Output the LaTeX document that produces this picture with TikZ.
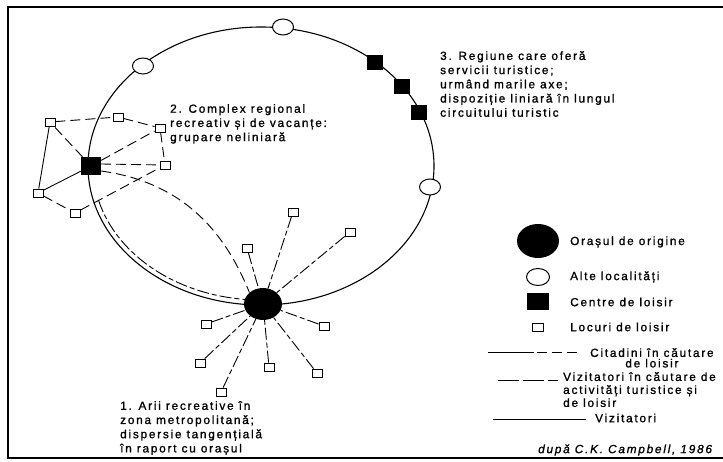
\documentclass[tikz,border=0pt]{standalone}
\usepackage{fontspec}
\setmainfont[LetterSpace=15,FakeBold=1.2]{Liberation Sans}
\usetikzlibrary{shapes.geometric}
\usetikzlibrary{positioning}

\begin{document}
\begin{tikzpicture}[x=1pt,y=1pt,
	oras/.style={ellipse,fill=black,minimum width=38pt,minimum height=32pt,inner sep=0},
	localitate/.style={ellipse,draw,line width=1pt,fill=white,minimum width=21pt,minimum height=16pt,inner sep=0},
	centru/.style={rectangle,fill=black,minimum width=16pt,minimum height=15pt,inner sep=0},
	loc/.style={rectangle,draw,line width=0.8pt,fill=white,minimum width=10pt,minimum height=8pt,inner sep=0},
	citad/.style={line width=0.9pt,dash pattern=on 12pt off 3pt on 5pt off 3pt},
	turist/.style={line width=0.9pt,dash pattern=on 10pt off 5pt},
	lbl/.style={font=\fontsize{11.8}{14.2}\selectfont,inner sep=0,align=left}]

\useasboundingbox (0,0) rectangle (723,-462);
\draw[line width=1.6pt] (740,-7) -- (8,-7) -- (8,-458) -- (740,-458);

% circuitul turistic
\draw[line width=1.1pt] (261,-166) ellipse [x radius=173, y radius=139];
\coordinate (a0) at (98.7,-200.7);
\draw[citad] (a0) arc [start angle=195, end angle=267, x radius=168, y radius=134];

\node[oras] (city) at (263,-304) {};

\node[localitate] (o1) at (283,-27) {};
\node[localitate] (o2) at (143,-66) {};
\node[localitate] (o3) at (430,-187) {};

\node[centru] (c1) at (375,-63) {};
\node[centru] (c2) at (402,-87) {};
\node[centru] (c3) at (419,-113) {};

% complexul regional
\node[centru,minimum width=20pt,minimum height=18pt] (cplx) at (91,-166) {};
\node[loc] (s1) at (50,-122) {};
\node[loc] (s2) at (118,-117) {};
\node[loc] (s3) at (160,-128) {};
\node[loc] (s4) at (165,-165) {};
\node[loc] (s5) at (38,-193) {};
\node[loc] (s6) at (75,-213) {};

\draw[turist] (s1) -- (s2) -- (s3);
\draw[turist] (s3) -- (s4);
\draw[turist] (s5) -- (s6);
\draw[turist] (s6) -- (s4);
\draw[turist] (cplx) -- (s1);
\draw[turist] (cplx) -- (s3);
\draw[turist] ([yshift=2pt]cplx.east) -- (s4);
\draw[line width=0.9pt] (s1) -- (s5);
\draw[line width=0.9pt] (cplx) -- (s5);
\draw[turist] ([yshift=-5pt]cplx.east) to[out=-8,in=112] (city.north west);

% arii recreative
\node[loc] (r1) at (293,-212) {};
\node[loc] (r2) at (350,-232) {};
\node[loc] (r3) at (247,-248) {};
\node[loc] (r4) at (324,-326) {};
\node[loc] (r5) at (206,-324) {};
\node[loc] (r6) at (200,-363) {};
\node[loc] (r7) at (269,-367) {};
\node[loc] (r8) at (317,-373) {};
\node[loc] (r9) at (221,-392) {};
\foreach \i in {1,...,9}
	\draw[citad] (r\i) -- (city);

\node[lbl,anchor=north west] (t2) at (170,-104) {2. Complex regional\\recreativ și de vacanțe:\\grupare neliniară};
\node[lbl,anchor=north west] (t3) at (440,-51) {3. Regiune care oferă\\servicii turistice;\\urmând marile axe;\\dispoziție liniară în lungul\\circuitului turistic};
\node[lbl,anchor=north west] (t1) at (120,-401) {1. Arii recreative în\\zona metropolitană;\\dispersie tangențială\\în raport cu orașul};

% legenda
\node[oras,minimum width=42pt,minimum height=34pt] (lcity) at (538,-241) {};
\node[localitate,minimum width=23pt,minimum height=17pt] (lloc) at (538,-277) {};
\node[centru,minimum width=22pt,minimum height=17pt] (lcen) at (538,-302) {};
\node[loc,minimum width=11pt] (lsq) at (538,-327) {};
\node[lbl,anchor=west] at (570,-242) {Orașul de origine};
\node[lbl,anchor=west] at (570,-277) {Alte localități};
\node[lbl,anchor=west] at (570,-302) {Centre de loisir};
\node[lbl,anchor=west] at (570,-327) {Locuri de loisir};

\coordinate (la1) at (488,-353);
\coordinate (la2) at (534,-353);
\coordinate (la3) at (580,-353);
\draw[line width=1pt] (la1) -- (la2);
\draw[line width=1pt,dash pattern=on 10pt off 5pt] ([xshift=3pt]la2) -- (la3);
\node[lbl,align=center,anchor=north west,font=\fontsize{11.8}{10.5}\selectfont] at (590,-348) {Citadini în căutare\\de loisir};

\coordinate (lb1) at (498,-380);
\coordinate (lb2) at (558,-380);
\draw[line width=1pt,dash pattern=on 21pt off 4pt] (lb1) -- (lb2);
\node[lbl,anchor=north west,font=\fontsize{11.8}{13}\selectfont] at (563,-372) {Vizitatori în căutare de\\activități turistice și\\de loisir};

\coordinate (lc1) at (493,-419);
\coordinate (lc2) at (586,-419);
\draw[line width=1pt] (lc1) -- (lc2);
\node[lbl,anchor=west] at (595,-418) {Vizitatori};

\node[lbl,anchor=west,font=\fontsize{11.8}{14}\selectfont\itshape] at (538,-450) {după C.K. Campbell, 1986};
\end{tikzpicture}
\end{document}
